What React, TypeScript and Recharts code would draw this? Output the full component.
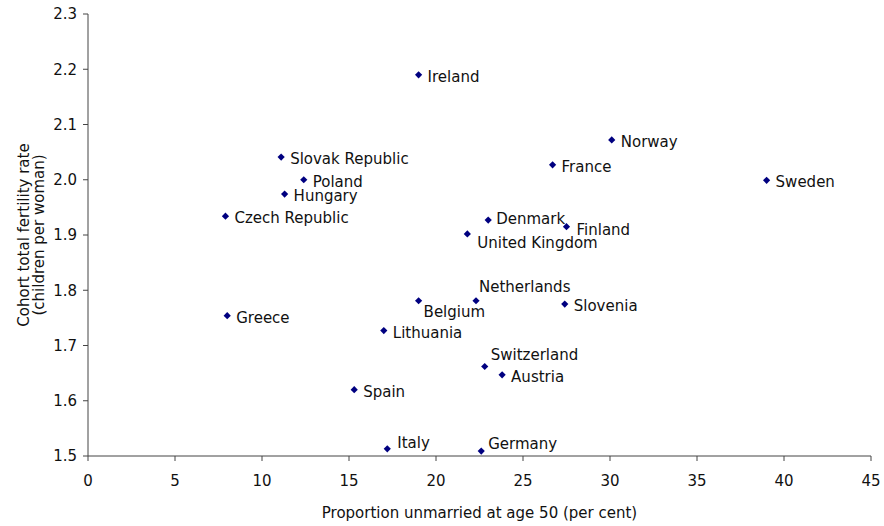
import { ScatterChart, Scatter, XAxis, YAxis } from 'recharts';

const countries = [
  'Ireland', 'Norway', 'Sweden', 'France', 'Slovak Republic', 'Poland', 'Hungary',
  'Czech Republic', 'Denmark', 'Finland', 'United Kingdom', 'Netherlands', 'Belgium',
  'Slovenia', 'Greece', 'Lithuania', 'Switzerland', 'Austria', 'Spain', 'Italy', 'Germany',
];
const unmarried = [
  19.0, 30.1, 39.0, 26.7, 11.1, 12.4, 11.3,
  7.9, 23.0, 27.5, 21.8, 22.3, 19.0,
  27.4, 8.0, 17.0, 22.8, 23.8, 15.3, 17.2, 22.6,
];
const fertility = [
  2.19, 2.072, 1.999, 2.027, 2.041, 2.0, 1.974,
  1.934, 1.927, 1.915, 1.902, 1.781, 1.781,
  1.775, 1.754, 1.727, 1.662, 1.647, 1.62, 1.513, 1.509,
];
const xTicks = [0, 5, 10, 15, 20, 25, 30, 35, 40, 45];
const yTicks = [1.5, 1.6, 1.7, 1.8, 1.9, 2.0, 2.1, 2.2, 2.3];

const data = countries.map((name, i) => ({ name, x: unmarried[i], y: fertility[i] }));

// where each label sits relative to its marker
const labelOffset: Record<string, [number, number]> = {
  Netherlands: [3, -14],
  Belgium: [5, 11],
  'United Kingdom': [10, 9],
  Finland: [10, 3],
  Denmark: [8, -1],
  Switzerland: [6, -11],
  Italy: [10, -6],
  Germany: [7, -7],
};

const font = '"DejaVu Sans", Arial, sans-serif';
const tickStyle = { fontSize: 15, fill: '#111', fontFamily: font };
const axisLine = { stroke: '#444' };

const Point = (props: any) => {
  const { cx, cy, payload } = props;
  const [dx, dy] = labelOffset[payload.name] ?? [9, 2];
  const r = 3.6;
  return (
    <g>
      <polygon
        points={`${cx},${cy - r} ${cx + r},${cy} ${cx},${cy + r} ${cx - r},${cy}`}
        fill="#000080"
      />
      <text
        x={cx + dx}
        y={cy + dy}
        dominantBaseline="central"
        fontSize={15}
        fontFamily={font}
        fill="#111"
      >
        {payload.name}
      </text>
    </g>
  );
};

const YTitle = (props: any) => {
  const vb = props.viewBox ?? { y: 14, height: 442 };
  const cy = vb.y + vb.height / 2;
  return (
    <text
      transform={`rotate(-90, 0, ${cy})`}
      x={0}
      y={cy}
      textAnchor="middle"
      fontSize={15}
      fontFamily={font}
      fill="#111"
    >
      <tspan x={0} dy={29}>Cohort total fertility rate</tspan>
      <tspan x={0} dy={15}>(children per woman)</tspan>
    </text>
  );
};

export default function App() {
  return (
    <div style={{ position: 'absolute', left: 0, top: 0, background: '#fff' }}>
      <ScatterChart width={884} height={526} margin={{ top: 14, right: 13, bottom: 0, left: 0 }}>
        <XAxis
          type="number"
          dataKey="x"
          domain={[0, 45]}
          ticks={xTicks}
          interval={0}
          tick={tickStyle}
          axisLine={axisLine}
          tickLine={axisLine}
          tickSize={5}
          tickMargin={14}
          height={70}
          label={{
            value: 'Proportion unmarried at age 50 (per cent)',
            position: 'insideBottom',
            offset: 8,
            style: { fontSize: 15, fill: '#111', fontFamily: font },
          }}
        />
        <YAxis
          type="number"
          dataKey="y"
          domain={[1.5, 2.3]}
          ticks={yTicks}
          interval={0}
          tickFormatter={(v: number) => v.toFixed(1)}
          tick={tickStyle}
          axisLine={axisLine}
          tickLine={axisLine}
          tickSize={5}
          tickMargin={6}
          width={88}
          label={<YTitle />}
        />
        <Scatter data={data} shape={<Point />} isAnimationActive={false} />
      </ScatterChart>
    </div>
  );
}
